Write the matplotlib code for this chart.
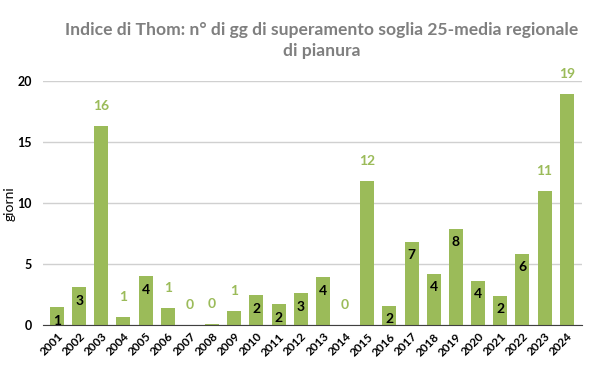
import matplotlib.pyplot as plt

# data
years = [str(y) for y in range(2001, 2025)]
giorni = [1.47, 3.1, 16.3, 0.65, 4.0, 1.42, 0.0, 0.1, 1.17, 2.46, 1.72, 2.62,
          3.93, 0.0, 11.8, 1.56, 6.8, 4.18, 7.87, 3.63, 2.38, 5.82, 11.0, 18.9]
etichette = [1, 3, 16, 1, 4, 1, 0, 0, 1, 2, 2, 3, 4, 0, 12, 2, 7, 4, 8, 4, 2, 6, 11, 19]
# True = label inside bar (black), False = above bar (green)
dentro = [True, True, False, False, True, False, False, False, False, True, True, True,
          True, False, False, True, True, True, True, True, True, True, False, False]

green = '#9BBB59'
grey = '#7F7F7F'

plt.rcParams['font.family'] = ['Lato', 'DejaVu Sans']

fig = plt.figure(figsize=(6, 3.71), dpi=100)
ax = fig.add_axes([0.0717, 0.123, 0.8983, 0.6587])

x = list(range(len(years)))
bars = ax.bar(x, giorni, width=0.63, color=green, zorder=3)

for i, b in enumerate(bars):
    h = b.get_height()
    if dentro[i]:
        ax.annotate(str(etichette[i]), (b.get_x() + b.get_width() / 2, h),
                    xytext=(0, -9.5), textcoords='offset points',
                    ha='center', va='center', fontsize=10, fontweight='bold',
                    color='black', annotation_clip=False)
    else:
        ax.annotate(str(etichette[i]), (b.get_x() + b.get_width() / 2, h),
                    xytext=(0, 14.5), textcoords='offset points',
                    ha='center', va='center', fontsize=10, fontweight='bold',
                    color=green, annotation_clip=False)

ax.set_xlim(-0.63, 23.69)
ax.set_ylim(0, 20)
ax.set_yticks([0, 5, 10, 15, 20])
ax.set_xticks(x)
ax.set_xticklabels(years, rotation=45, ha='right', rotation_mode='anchor',
                   fontsize=8.5, fontweight='bold')
for t in ax.get_yticklabels():
    t.set_fontweight('bold')
    t.set_fontsize(9)
ax.tick_params(length=0)
ax.tick_params(axis='x', pad=4)
ax.tick_params(axis='y', pad=8)

ax.grid(axis='y', color='#D0D0D0', linewidth=1, zorder=0)
for s in ['top', 'right', 'left']:
    ax.spines[s].set_visible(False)
ax.spines['bottom'].set_color('#404040')
ax.spines['bottom'].set_zorder(4)

ax.set_ylabel('giorni', fontsize=10, labelpad=1)

fig.text(0.536, 0.89, 'Indice di Thom: n° di gg di superamento soglia 25-media regionale\ndi pianura',
         ha='center', va='center', fontsize=12.6, fontweight='bold', color=grey,
         linespacing=1.4)

fig.savefig('out.png', dpi=100)
